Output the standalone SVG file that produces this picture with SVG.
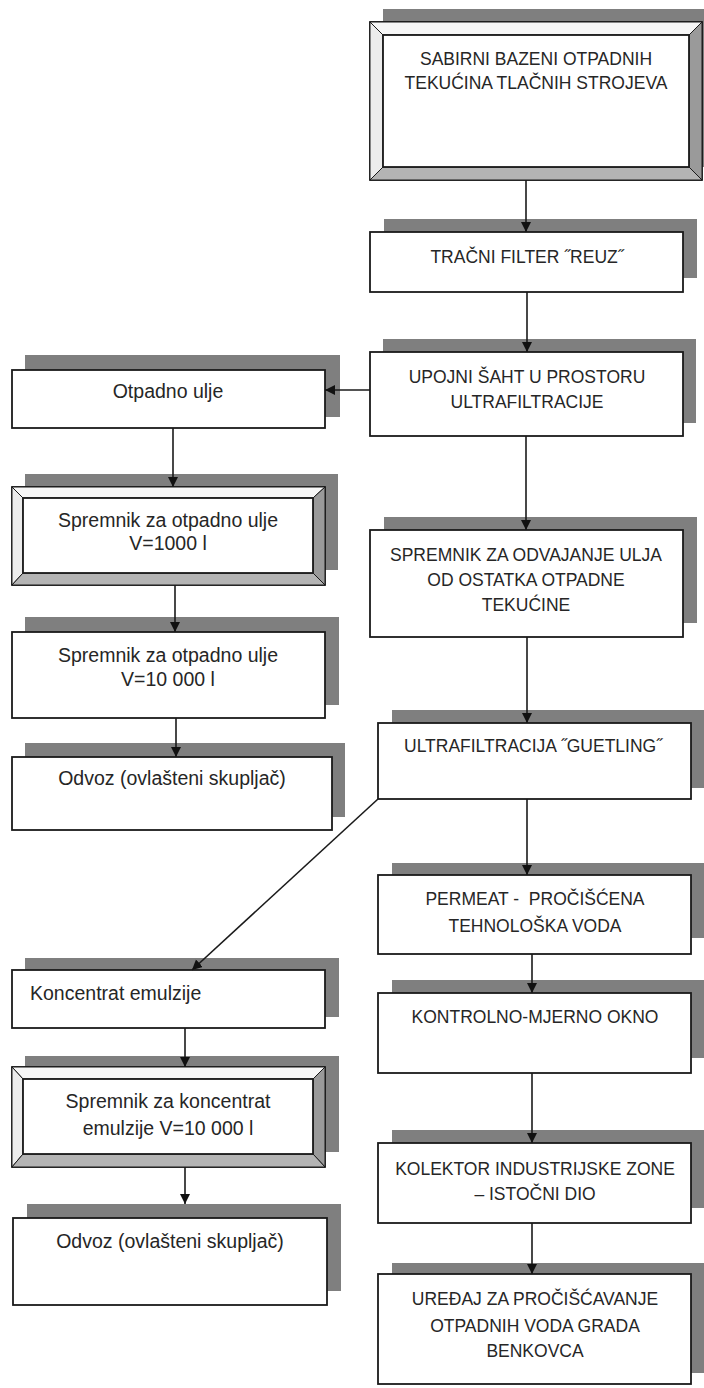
<svg xmlns="http://www.w3.org/2000/svg" width="704" height="1388" viewBox="0 0 704 1388">
<style>
.sh{fill:#7f7f7f;stroke:none}
.bx{fill:#fff;stroke:#1a1a1a;stroke-width:1.8}
.bt{fill:#f7f7f7;stroke:#1a1a1a;stroke-width:1}
.bl{fill:#ececec;stroke:#1a1a1a;stroke-width:1}
.br{fill:#9a9a9a;stroke:#1a1a1a;stroke-width:1}
.bb{fill:#b4b4b4;stroke:#1a1a1a;stroke-width:1}
.in{fill:#fff;stroke:#1a1a1a;stroke-width:1.8}
text{font-family:"Liberation Sans",Arial,sans-serif;fill:#262626}
.c{font-size:17.5px;text-anchor:middle}
.l{font-size:19.5px;text-anchor:middle}
.ll{font-size:19.5px}
.cn{fill:none;stroke:#1a1a1a;stroke-width:1.6}
</style>
<defs>
<marker id="ah" markerUnits="userSpaceOnUse" markerWidth="11" markerHeight="11" refX="10" refY="5" orient="auto">
<path d="M0,0 L10,5 L0,10 z" fill="#111"/>
</marker>
</defs>

<g id="n_sabirni">
<rect class="sh" x="383" y="9" width="332" height="158"/>
<rect class="bx" x="370" y="22" width="332" height="158"/>
<polygon class="bt" points="370,22 702,22 689,35 383,35"/>
<polygon class="bl" points="370,22 383,35 383,167 370,180"/>
<polygon class="br" points="702,22 702,180 689,167 689,35"/>
<polygon class="bb" points="370,180 383,167 689,167 702,180"/>
<rect class="in" x="383" y="35" width="306" height="132"/>
<text class="c" x="536" y="65">SABIRNI BAZENI OTPADNIH</text>
<text class="c" x="536" y="89">TEKUĆINA TLAČNIH STROJEVA</text>
</g>

<g id="n_tracni">
<rect class="sh" x="384" y="219" width="313" height="59"/>
<rect class="bx" x="370" y="232" width="313" height="60"/>
<text class="c" x="527" y="263">TRAČNI FILTER ˝REUZ˝</text>
</g>

<g id="n_upojni">
<rect class="sh" x="383" y="339" width="313" height="84"/>
<rect class="bx" x="370" y="352" width="313" height="84"/>
<text class="c" x="527" y="383">UPOJNI ŠAHT U PROSTORU</text>
<text class="c" x="527" y="408">ULTRAFILTRACIJE</text>
</g>

<g id="n_spremnik_odv">
<rect class="sh" x="384" y="517" width="313" height="106"/>
<rect class="bx" x="370" y="530" width="313" height="107"/>
<text class="c" x="526" y="561">SPREMNIK ZA ODVAJANJE ULJA</text>
<text class="c" x="526" y="586">OD OSTATKA OTPADNE</text>
<text class="c" x="526" y="611">TEKUĆINE</text>
</g>

<g id="n_ultra">
<rect class="sh" x="392" y="710" width="313" height="78"/>
<rect class="bx" x="378" y="723" width="313" height="76"/>
<text class="c" x="533" y="752">ULTRAFILTRACIJA ˝GUETLING˝</text>
</g>

<g id="n_permeat">
<rect class="sh" x="392" y="863" width="313" height="75"/>
<rect class="bx" x="378" y="875" width="313" height="79"/>
<text class="c" x="535" y="905" style="white-space:pre">PERMEAT -  PROČIŠĆENA</text>
<text class="c" x="535" y="932">TEHNOLOŠKA VODA</text>
</g>

<g id="n_kontrolno">
<rect class="sh" x="392" y="980" width="313" height="78"/>
<rect class="bx" x="378" y="993" width="313" height="80"/>
<text class="c" x="535" y="1023">KONTROLNO-MJERNO OKNO</text>
</g>

<g id="n_kolektor">
<rect class="sh" x="392" y="1130" width="313" height="78"/>
<rect class="bx" x="378" y="1143" width="313" height="80"/>
<text class="c" x="535" y="1175">KOLEKTOR INDUSTRIJSKE ZONE</text>
<text class="c" x="535" y="1200">– ISTOČNI DIO</text>
</g>

<g id="n_uredjaj">
<rect class="sh" x="392" y="1263" width="313" height="110"/>
<rect class="bx" x="378" y="1274" width="313" height="110"/>
<text class="c" x="535" y="1305">UREĐAJ ZA PROČIŠĆAVANJE</text>
<text class="c" x="535" y="1332">OTPADNIH VODA GRADA</text>
<text class="c" x="535" y="1357">BENKOVCA</text>
</g>

<g id="n_otpadno">
<rect class="sh" x="25" y="355" width="315" height="62"/>
<rect class="bx" x="12" y="370" width="313" height="58"/>
<text class="l" x="168" y="398">Otpadno ulje</text>
</g>

<g id="n_spr1000">
<rect class="sh" x="25" y="474" width="313" height="96"/>
<rect class="bx" x="12" y="487" width="313" height="98"/>
<polygon class="bt" points="12,487 325,487 313,498 23,498"/>
<polygon class="bl" points="12,487 23,498 23,573 12,585"/>
<polygon class="br" points="325,487 325,585 313,573 313,498"/>
<polygon class="bb" points="12,585 23,573 313,573 325,585"/>
<rect class="in" x="23" y="498" width="290" height="75"/>
<text class="l" x="168" y="527">Spremnik za otpadno ulje</text>
<text class="l" x="168" y="550">V=1000 l</text>
</g>

<g id="n_spr10000">
<rect class="sh" x="25" y="617" width="314" height="88"/>
<rect class="bx" x="12" y="632" width="313" height="86"/>
<text class="l" x="168" y="662">Spremnik za otpadno ulje</text>
<text class="l" x="168" y="686">V=10 000 l</text>
</g>

<g id="n_odvoz1">
<rect class="sh" x="25" y="743" width="320" height="74"/>
<rect class="bx" x="12" y="757" width="320" height="73"/>
<text class="l" x="172" y="785">Odvoz (ovlašteni skupljač)</text>
</g>

<g id="n_koncentrat">
<rect class="sh" x="25" y="958" width="314" height="59"/>
<rect class="bx" x="12" y="970" width="313" height="58"/>
<text class="ll" x="30" y="1000">Koncentrat emulzije</text>
</g>

<g id="n_spr_konc">
<rect class="sh" x="25" y="1056" width="314" height="96"/>
<rect class="bx" x="12" y="1067" width="313" height="100"/>
<polygon class="bt" points="12,1067 325,1067 313,1079 23,1079"/>
<polygon class="bl" points="12,1067 23,1079 23,1154 12,1167"/>
<polygon class="br" points="325,1067 325,1167 313,1154 313,1079"/>
<polygon class="bb" points="12,1167 23,1154 313,1154 325,1167"/>
<rect class="in" x="23" y="1079" width="290" height="75"/>
<text class="l" x="168" y="1108">Spremnik za koncentrat</text>
<text class="l" x="168" y="1135">emulzije V=10 000 l</text>
</g>

<g id="n_odvoz2">
<rect class="sh" x="27" y="1204" width="314" height="87"/>
<rect class="bx" x="13" y="1218" width="314" height="87"/>
<text class="l" x="170" y="1248">Odvoz (ovlašteni skupljač)</text>
</g>

<g id="connectors">
<line class="cn" x1="526" y1="180" x2="526" y2="232" marker-end="url(#ah)"/>
<line class="cn" x1="527" y1="292" x2="527" y2="352" marker-end="url(#ah)"/>
<line class="cn" x1="370" y1="390" x2="325" y2="390" marker-end="url(#ah)"/>
<line class="cn" x1="526" y1="436" x2="526" y2="530" marker-end="url(#ah)"/>
<line class="cn" x1="173" y1="428" x2="173" y2="487" marker-end="url(#ah)"/>
<line class="cn" x1="175" y1="585" x2="175" y2="632" marker-end="url(#ah)"/>
<line class="cn" x1="176" y1="718" x2="176" y2="757" marker-end="url(#ah)"/>
<line class="cn" x1="527" y1="637" x2="527" y2="723" marker-end="url(#ah)"/>
<line class="cn" x1="378" y1="799" x2="192" y2="970" marker-end="url(#ah)"/>
<line class="cn" x1="527" y1="799" x2="527" y2="875" marker-end="url(#ah)"/>
<line class="cn" x1="532" y1="954" x2="532" y2="993" marker-end="url(#ah)"/>
<line class="cn" x1="532" y1="1073" x2="532" y2="1143" marker-end="url(#ah)"/>
<line class="cn" x1="532" y1="1223" x2="532" y2="1274" marker-end="url(#ah)"/>
<line class="cn" x1="185" y1="1028" x2="185" y2="1067" marker-end="url(#ah)"/>
<line class="cn" x1="185" y1="1167" x2="185" y2="1204" marker-end="url(#ah)"/>
</g>
</svg>
